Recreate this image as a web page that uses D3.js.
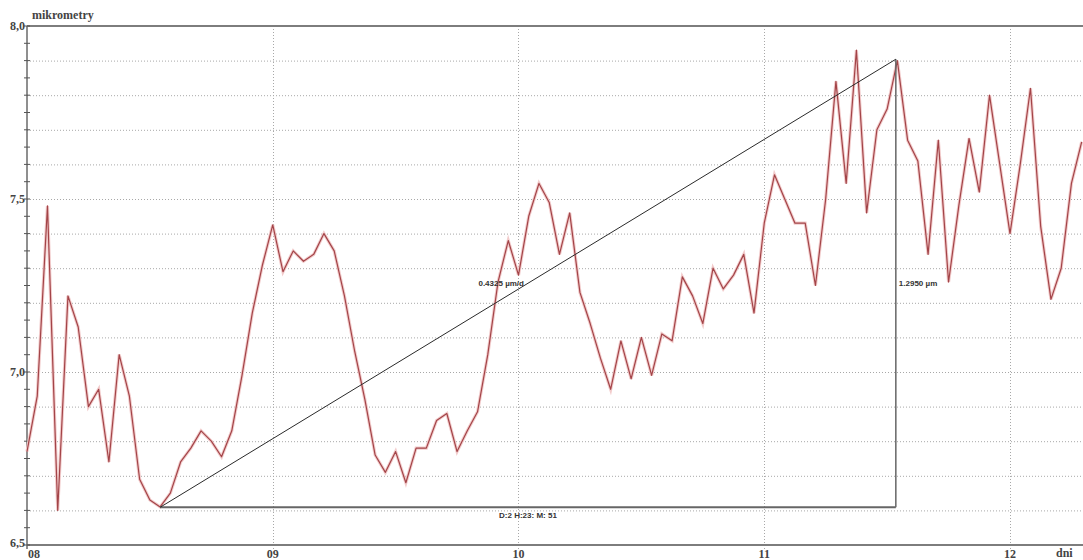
<!DOCTYPE html>
<html>
<head>
<meta charset="utf-8">
<script src="https://cdn.jsdelivr.net/npm/d3@7"></script>
<style>
  body { margin: 0; background: #fff; }
  .serif { font-family: "Liberation Serif", "DejaVu Serif", serif; }
  .sans { font-family: "Liberation Sans", "DejaVu Sans", sans-serif; }
</style>
</head>
<body>
<script>
// hourly readings, starting day 08 00:00
var startDay = 8;
var values = [
    6.77, 6.93, 7.48, 6.60, 7.22, 7.13, 6.90, 6.95, 6.74, 7.05, 6.93, 6.69,
    6.63, 6.61, 6.65, 6.74, 6.78, 6.83, 6.80, 6.755, 6.83, 6.99, 7.17, 7.31,
    7.425, 7.29, 7.35, 7.32, 7.34, 7.40, 7.35, 7.22, 7.06, 6.92, 6.76, 6.71,
    6.77, 6.68, 6.78, 6.78, 6.86, 6.88, 6.77, 6.83, 6.885, 7.05, 7.26, 7.38,
    7.28, 7.45, 7.545, 7.49, 7.34, 7.46, 7.23, 7.14, 7.04, 6.95, 7.09, 6.98,
    7.10, 6.99, 7.11, 7.09, 7.275, 7.22, 7.14, 7.30, 7.24, 7.28, 7.34, 7.17,
    7.43, 7.57, 7.50, 7.43, 7.43, 7.25, 7.50, 7.84, 7.545, 7.93, 7.46, 7.70,
    7.76, 7.90, 7.67, 7.61, 7.34, 7.67, 7.26, 7.48, 7.675, 7.52, 7.80, 7.60,
    7.40, 7.60, 7.82, 7.42, 7.21, 7.30, 7.545, 7.665
];

var dayTicks = [8, 9, 10, 11, 12];
var dayLabels = ["08", "09", "10", "11", "12"];
var yLabelTicks = [6.5, 7.0, 7.5, 8.0];

// measurement: from hour 13 to 2d 23h 51m later
var measureStartHour = 13;
var measureHours = 2 * 24 + 23 + 51 / 60;
var measureStartValue = 6.609;
var measureDelta = 1.295;
var measureTexts = ["0.4325 µm/d", "1.2950 µm", "D:2 H:23: M: 51"];

var width = 1083,
    height = 560,
    margin = { top: 26, left: 27, bottom: 15 };

var svg = d3.select("body").append("svg")
    .attr("width", width)
    .attr("height", height);

var x = d3.scaleLinear()
    .domain([startDay, startDay + (width - margin.left) / 245.75])
    .range([margin.left, width]);

var y = d3.scaleLinear()
    .domain([6.5, 8.0])
    .range([height - margin.bottom, margin.top]);

var gridColor = "#a8a8a8";

// horizontal dotted grid every 0.1
svg.append("g").selectAll("line")
    .data(d3.range(66, 80).map(function (d) { return d / 10; }))
    .enter().append("line")
    .attr("x1", x.range()[0]).attr("x2", x.range()[1])
    .attr("y1", function (d) { return y(d) + 0.5; })
    .attr("y2", function (d) { return y(d) + 0.5; })
    .attr("stroke", gridColor)
    .attr("stroke-dasharray", "1,2");

// vertical dotted grid at each day
svg.append("g").selectAll("line")
    .data(dayTicks.slice(1))
    .enter().append("line")
    .attr("x1", function (d) { return Math.round(x(d)) + 0.5; })
    .attr("x2", function (d) { return Math.round(x(d)) + 0.5; })
    .attr("y1", y(8)).attr("y2", y(6.5) + 4)
    .attr("stroke", gridColor)
    .attr("stroke-dasharray", "1,2");

// frame: top border, bottom axis, left axis
svg.append("line")
    .attr("x1", x.range()[0]).attr("x2", width)
    .attr("y1", y(8)).attr("y2", y(8))
    .attr("stroke", "#7d7d7d").attr("stroke-width", 2);
svg.append("line")
    .attr("x1", x.range()[0]).attr("x2", width)
    .attr("y1", y(6.5)).attr("y2", y(6.5))
    .attr("stroke", "#7d7d7d").attr("stroke-width", 2);
svg.append("line")
    .attr("x1", x.range()[0]).attr("x2", x.range()[0])
    .attr("y1", y(8)).attr("y2", y(6.5) + 4)
    .attr("stroke", "#6a6a6a").attr("stroke-width", 1.5);

// minor y ticks every 0.05
svg.append("g").selectAll("line")
    .data(d3.range(130, 161).map(function (d) { return d / 20; }))
    .enter().append("line")
    .attr("x1", x.range()[0] - 3).attr("x2", x.range()[0] + 3)
    .attr("y1", function (d) { return y(d); })
    .attr("y2", function (d) { return y(d); })
    .attr("stroke", "#555").attr("stroke-width", 1);

// y labels
svg.append("g").selectAll("text")
    .data(yLabelTicks)
    .enter().append("text")
    .attr("class", "serif")
    .attr("x", x.range()[0] - 2)
    .attr("y", function (d) { return Math.min(y(d) + 4, y(6.5) + 2); })
    .attr("text-anchor", "end")
    .attr("font-size", 12)
    .attr("font-weight", "bold")
    .attr("fill", "#444")
    .text(function (d) { return d3.format(".1f")(d).replace(".", ","); });

svg.append("text")
    .attr("class", "serif")
    .attr("x", x.range()[0] + 5).attr("y", 19)
    .attr("font-size", 12).attr("font-weight", "bold").attr("fill", "#444")
    .text("mikrometry");

// x labels
svg.append("g").selectAll("text")
    .data(dayTicks)
    .enter().append("text")
    .attr("class", "serif")
    .attr("x", function (d, i) { return i == 0 ? x(d) + 1 : x(d); })
    .attr("y", 558)
    .attr("text-anchor", function (d, i) { return i == 0 ? "start" : "middle"; })
    .attr("font-size", 12)
    .attr("font-weight", "bold")
    .attr("fill", "#444")
    .text(function (d, i) { return dayLabels[i]; });

svg.append("text")
    .attr("class", "serif")
    .attr("x", 1056).attr("y", 557)
    .attr("font-size", 12).attr("font-weight", "bold").attr("fill", "#444")
    .text("dni");

// data line
var line = d3.line()
    .x(function (d, i) { return x(startDay + i / 24); })
    .y(function (d) { return y(d); });

svg.append("path")
    .datum(values)
    .attr("fill", "none")
    .attr("stroke", "#f2cccc")
    .attr("stroke-width", 3.2)
    .attr("d", line);

svg.append("path")
    .datum(values)
    .attr("fill", "none")
    .attr("stroke", "#a34448")
    .attr("stroke-width", 1.2)
    .attr("stroke-linejoin", "round")
    .attr("d", line);

// measurement triangle
var mx0 = x(startDay + measureStartHour / 24),
    mx1 = x(startDay + (measureStartHour + measureHours) / 24),
    my0 = y(measureStartValue),
    my1 = y(measureStartValue + measureDelta),
    mxMid = (mx0 + mx1) / 2,
    myMid = y(measureStartValue + measureDelta / 2);

svg.append("line")
    .attr("x1", mx0).attr("y1", my0).attr("x2", mx1).attr("y2", my0)
    .attr("stroke", "#666").attr("stroke-width", 2);
svg.append("line")
    .attr("x1", mx1).attr("y1", my0).attr("x2", mx1).attr("y2", my1)
    .attr("stroke", "#666").attr("stroke-width", 1.5);
svg.append("line")
    .attr("x1", mx0).attr("y1", my0).attr("x2", mx1).attr("y2", my1)
    .attr("stroke", "#2a2a2a").attr("stroke-width", 1);

svg.append("text")
    .attr("class", "sans")
    .attr("x", mxMid - 4).attr("y", myMid + 3)
    .attr("text-anchor", "end")
    .attr("font-size", 8).attr("font-weight", "bold").attr("fill", "#333")
    .text(measureTexts[0]);
svg.append("text")
    .attr("class", "sans")
    .attr("x", mx1 + 3).attr("y", myMid + 3)
    .attr("font-size", 8).attr("font-weight", "bold").attr("fill", "#333")
    .text(measureTexts[1]);
svg.append("text")
    .attr("class", "sans")
    .attr("x", mxMid).attr("y", my0 + 11)
    .attr("text-anchor", "middle")
    .attr("font-size", 8).attr("font-weight", "bold").attr("fill", "#333")
    .text(measureTexts[2]);
</script>
</body>
</html>
